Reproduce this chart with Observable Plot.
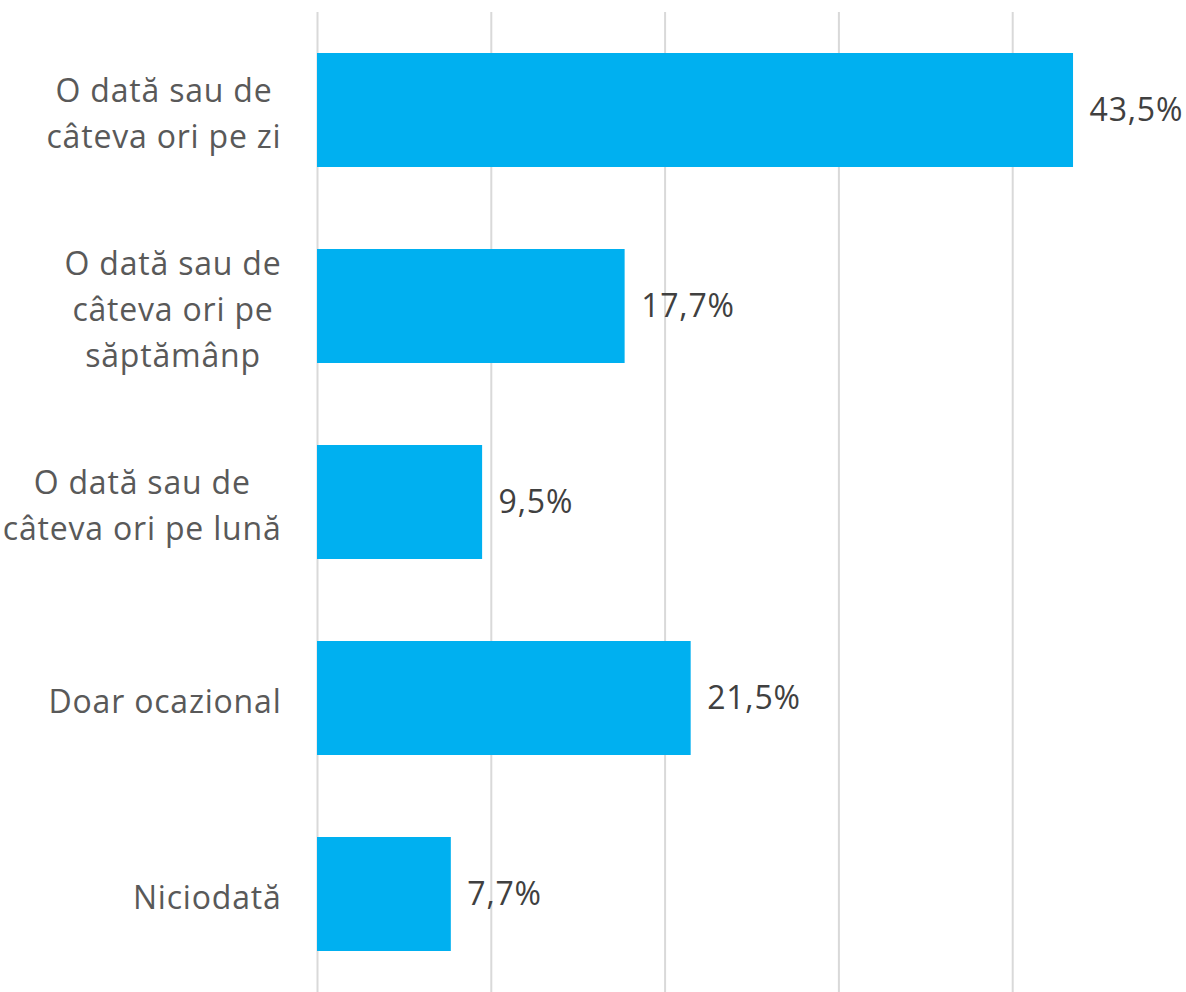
<!DOCTYPE html>
<html>
<head>
<meta charset="utf-8">
<script src="https://cdn.jsdelivr.net/npm/d3@7"></script>
<script src="https://cdn.jsdelivr.net/npm/@observablehq/plot@0.6"></script>
<style>
  html, body { margin: 0; padding: 0; background: #fff; }
  #chart { width: 1186px; height: 992px; }
  #chart svg text { letter-spacing: 0.8px; }
</style>
</head>
<body>
<div id="chart"></div>
<script>
const categories = [
  "O dată sau de\ncâteva ori pe zi",
  "O dată sau de\ncâteva ori pe\nsăptămânp",
  "O dată sau de\ncâteva ori pe lună",
  "Doar ocazional",
  "Niciodată"
];
const values = [43.5, 17.7, 9.5, 21.5, 7.7];
const gridTicks = [0, 10, 20, 30, 40];

const data = categories.map((c, i) => ({cat: c, value: values[i]}));
const fmt = v => v.toFixed(1).replace(".", ",") + "%";

const FONT = "'Open Sans', 'Noto Sans', sans-serif";
const FS = 32;
const LS = 0.8;
const ctx = document.createElement("canvas").getContext("2d");
ctx.font = `${FS}px ${FONT}`;
const lineWidth = l => ctx.measureText(l).width + l.length * LS;
const blockWidth = s => Math.max(...s.split("\n").map(lineWidth));

const labelGap = 36;
const labelMarks = data.map(d => Plot.text([d], {
  x: 0, y: "cat", text: "cat",
  textAnchor: "middle",
  dx: -(labelGap + blockWidth(d.cat) / 2),
  lineHeight: 46 / FS,
  fontSize: FS,
  fill: "#595959"
}));

const chart = Plot.plot({
  width: 1186,
  height: 992,
  marginLeft: 317,
  marginRight: 0,
  marginTop: 12,
  marginBottom: 0,
  style: {fontFamily: FONT, background: "#fff"},
  x: {domain: [0, 50], axis: null},
  y: {domain: categories, axis: null, paddingInner: 0.42, paddingOuter: 0.21},
  marks: [
    Plot.ruleX(gridTicks, {stroke: "#d9d9d9", strokeWidth: 2}),
    Plot.barX(data, {x: "value", y: "cat", fill: "#00B0F0"}),
    Plot.text(data, {
      x: "value", y: "cat", text: d => fmt(d.value),
      textAnchor: "start", dx: 16, fontSize: FS, fill: "#404040"
    }),
    ...labelMarks
  ]
});
document.getElementById("chart").appendChild(chart);
</script>
</body>
</html>
